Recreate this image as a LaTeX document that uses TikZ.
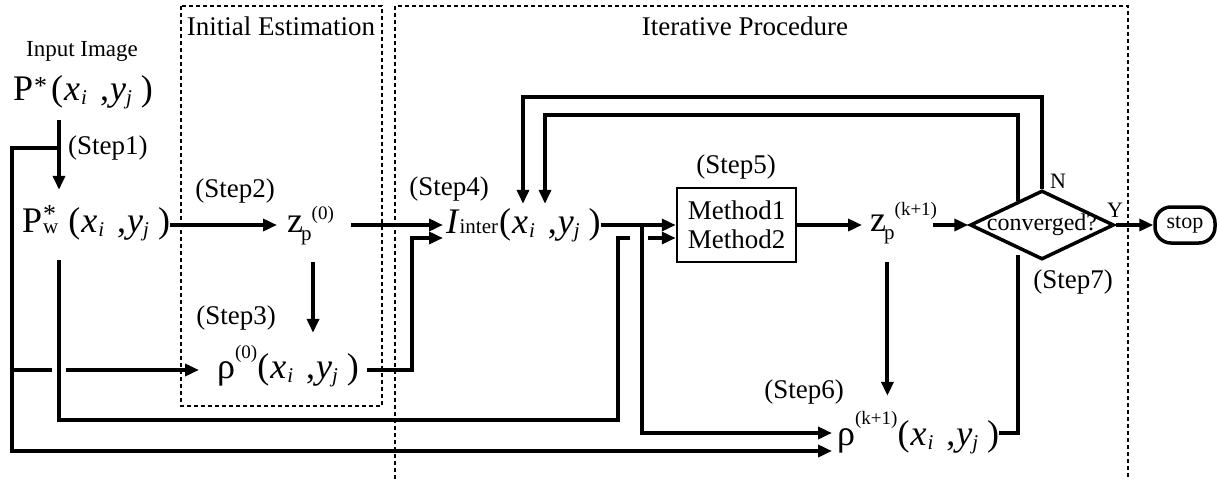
\documentclass[tikz,border=0pt]{standalone}
\usepackage{fontspec}
\setmainfont{Liberation Serif}
\usetikzlibrary{arrows.meta,shapes.geometric,calc}
\newcommand\BIGF{\fontsize{36}{40}\selectfont}
\newcommand\SBF[1]{{\fontsize{21}{21}\selectfont #1}}
\newcommand\STF[1]{{\fontsize{26}{26}\selectfont #1}}
\newcommand\SPF[1]{{\fontsize{19}{19}\selectfont #1}}
\newcommand\LBF{\fontsize{27}{29}\selectfont}
\newcommand\XYpair{(\kern1pt\textit{x}\kern1pt\raisebox{-4pt}{\SBF{\textit{i}}}\kern13pt,\kern1pt\textit{y}\raisebox{-4pt}{\SBF{\textit{j}}}\kern9pt)}
\begin{document}
\begin{tikzpicture}[x=1pt,y=-1pt,
  line/.style={line width=4pt},
  arr/.style={line width=4pt,-{Triangle[length=14pt,width=12pt]}},
  math/.style={inner sep=0pt,font=\BIGF},
  lbl/.style={inner sep=0pt,font=\LBF},
  small/.style={inner sep=0pt,font=\fontsize{22}{22}\selectfont},
  dbox/.style={line width=1.2pt,dash pattern=on 4pt off 3pt}]
\useasboundingbox (0,0) rectangle (1219,479);

% main nodes
\node[math,anchor=base west,text height=30pt,text depth=20pt] (P) at (13,100)
  {P\kern1pt\raisebox{6pt}{\STF{*}}\kern4pt\XYpair};
\node[math,anchor=base west,text height=42pt,text depth=28pt] (Pw) at (22,232)
  {P\kern1pt\rlap{\raisebox{10pt}{\STF{*}}}\raisebox{-1pt}{\SBF{w}}\kern10pt\XYpair};
\node[math,anchor=base west,text height=44pt,text depth=30pt] (z0) at (277,232)
  {\kern10pt z\kern-2pt\raisebox{-8pt}{\SBF{p}}\raisebox{13pt}{\SPF{(0)}}\kern15pt};
\node[math,anchor=base west,text height=45pt,text depth=29pt] (rho0) at (199,378)
  {\kern18pt ρ\raisebox{20pt}{\SPF{(0)}}\XYpair\kern8pt};
\node[math,anchor=base west,text height=29pt,text depth=13pt] (Iint) at (443,233)
  {\kern3pt\textit{I}\SBF{inter}\kern1pt\XYpair};
\node[draw,line width=2.5pt,minimum width=119pt,minimum height=74pt,inner sep=0pt,
  align=center,font=\LBF] (method) at (736.5,225) {Method1\\Method2};
\node[math,anchor=base west,text height=43pt,text depth=31pt] (zk) at (862,231)
  {\kern8pt z\kern-2pt\raisebox{-8pt}{\SBF{p}}\rlap{\raisebox{16pt}{\SPF{(k+1)}}}\kern18pt};
\node[diamond,draw,line width=3.5pt,fill=white,minimum width=144pt,minimum height=69pt,
  inner sep=0pt,font=\fontsize{24}{24}\selectfont] (conv) at (1042,225)
  {\smash{\raisebox{-5pt}{\makebox[0pt]{converged?}}}};
\node[draw,line width=3.5pt,rounded corners=16pt,minimum width=60pt,minimum height=36pt,
  inner sep=0pt,font=\fontsize{22}{22}\selectfont] (stop) at (1185,225) {stop};
\node[math,anchor=base west,text height=49pt,text depth=25pt] (rhok) at (832,445)
  {\kern5pt ρ\raisebox{21pt}{\SPF{(k+1)}}\XYpair};

% labels
\node[inner sep=0pt,font=\fontsize{23}{23}\selectfont,anchor=base] (inimg) at (82,56) {Input Image};
\node[lbl,anchor=base] (tIE) at (281,35) {Initial Estimation};
\node[lbl,anchor=base] (tIP) at (745,35) {Iterative Procedure};
\node[lbl,anchor=base west] (s1) at (68,154) {(Step1)};
\node[lbl,anchor=base] (s2) at (235,197) {(Step2)};
\node[lbl,anchor=base] (s3) at (236,324) {(Step3)};
\node[lbl,anchor=base] (s4) at (449,195) {(Step4)};
\node[lbl,anchor=base] (s5) at (736,173) {(Step5)};
\node[lbl,anchor=base] (s6) at (804,398) {(Step6)};
\node[lbl,anchor=base] (s7) at (1073,288) {(Step7)};
\node[small,anchor=base] (lN) at (1058,188) {N};
\node[small,anchor=base] (lY) at (1115,217) {Y};

% route coordinates
\coordinate (jP) at (59,148);
\coordinate (cTL) at (12,148);
\coordinate (cBL) at (12,451);
\coordinate (gA1) at (52,370);
\coordinate (gA2) at (66,370);
\coordinate (c4) at (412,238);
\coordinate (j1) at (642,225);
\coordinate (cR1) at (618,420);
\coordinate (gB1) at (630,238);
\coordinate (gB2) at (648,238);
\coordinate (lo1) at (523,97);
\coordinate (lo2) at (545,115);
\coordinate (gC1) at (1018,255);
\coordinate (gC2) at (1018,201);

% connectors
\draw[arr] (P.south -| jP) -- (Pw.north -| jP);
\draw[arr] (jP) -- (cTL) -- (cBL) -- (cBL -| rhok.west);
\draw[line] (cTL |- rho0.west) -- (gA1);
\draw[arr] (gA2) -- (rho0.west);
\draw[arr] (Pw.east) -- (z0.west);
\draw[arr] (z0.south) -- (z0.south |- rho0.north);
\draw[arr,shorten <=2pt] (z0.east) -- (Iint.west);
\draw[arr] (rho0.east) -| (c4) -- (c4 -| Iint.west);
\draw[line] (Pw.south -| jP) |- (cR1) |- (gB1);
\draw[arr] (gB2) -- (gB2 -| method.west);
\draw[arr] (j1) |- (rhok.west);
\draw[arr] (Iint.east) -- (method.west);
\draw[arr] (method.east) -- (zk.west);
\draw[arr,shorten <=20pt] (zk.east) -- (conv.west);
\draw[arr] (zk.south) -- (zk.south |- rhok.north);
\draw[arr] (conv.east) -- (stop.west);
\draw[arr] (conv.north) |- (lo1) -- (lo1 |- Iint.north);
\draw[line] (rhok.east) -| (gC1);
\draw[arr] (gC2) |- (lo2) -- (lo2 |- Iint.north);

% dashed regions
\draw[dbox] (181,6) rectangle (382,406);
\draw[dbox] (395,479) -- (395,6) -- (1128,6) -- (1128,479);
\end{tikzpicture}
\end{document}
